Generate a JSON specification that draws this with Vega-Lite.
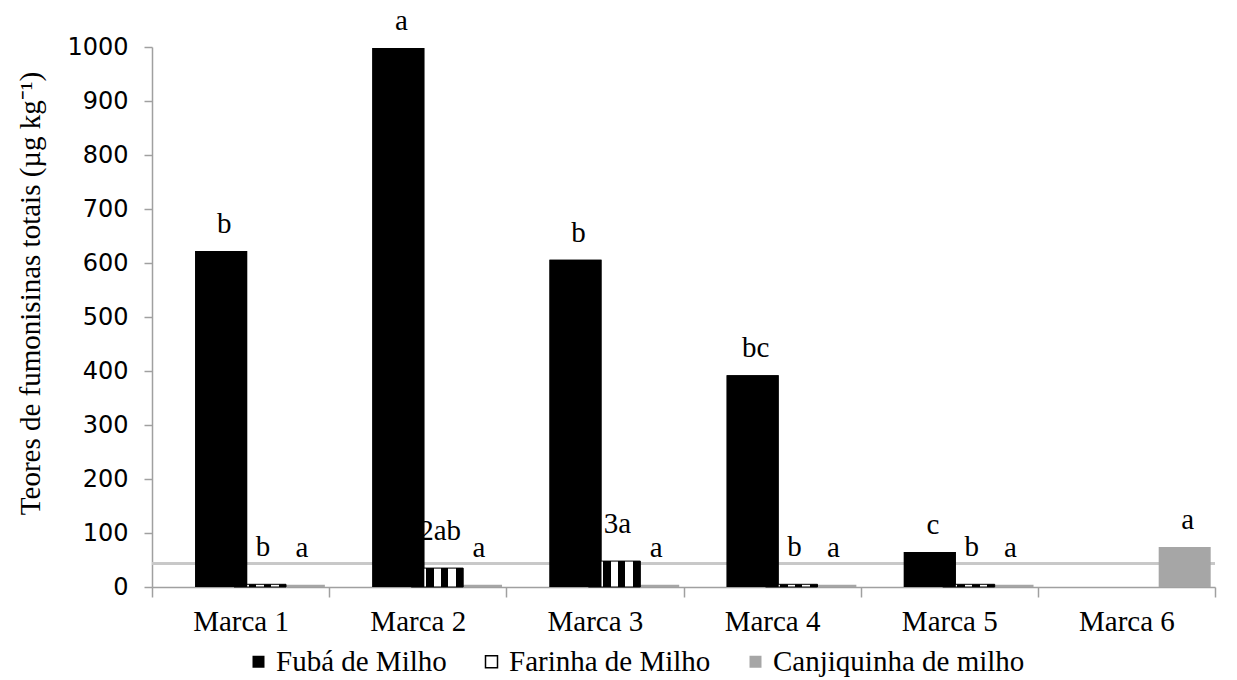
{
  "$schema": "https://vega.github.io/schema/vega-lite/v6.json",
  "width": 1063,
  "height": 540,
  "autosize": {"type": "none"},
  "padding": {"left": 152, "top": 47, "right": 22, "bottom": 93},
  "background": "white",
  "config": {
    "view": {"stroke": null},
    "legend": {"labelFont": "Liberation Serif", "labelFontSize": 29, "labelLimit": 600}
  },
  "data": {
    "values": [
      {"marca": "Marca 1", "serie": "Fubá de Milho", "valor": 622, "letra": "b"},
      {"marca": "Marca 1", "serie": "Farinha de Milho", "valor": 5, "letra": "b"},
      {"marca": "Marca 1", "serie": "Canjiquinha de milho", "valor": 4, "letra": "a"},
      {"marca": "Marca 2", "serie": "Fubá de Milho", "valor": 998, "letra": "a"},
      {"marca": "Marca 2", "serie": "Farinha de Milho", "valor": 35, "letra": "2ab"},
      {"marca": "Marca 2", "serie": "Canjiquinha de milho", "valor": 4, "letra": "a"},
      {"marca": "Marca 3", "serie": "Fubá de Milho", "valor": 606, "letra": "b"},
      {"marca": "Marca 3", "serie": "Farinha de Milho", "valor": 48, "letra": "3a"},
      {"marca": "Marca 3", "serie": "Canjiquinha de milho", "valor": 4, "letra": "a"},
      {"marca": "Marca 4", "serie": "Fubá de Milho", "valor": 392, "letra": "bc"},
      {"marca": "Marca 4", "serie": "Farinha de Milho", "valor": 5, "letra": "b"},
      {"marca": "Marca 4", "serie": "Canjiquinha de milho", "valor": 4, "letra": "a"},
      {"marca": "Marca 5", "serie": "Fubá de Milho", "valor": 65, "letra": "c"},
      {"marca": "Marca 5", "serie": "Farinha de Milho", "valor": 5, "letra": "b"},
      {"marca": "Marca 5", "serie": "Canjiquinha de milho", "valor": 4, "letra": "a"},
      {"marca": "Marca 6", "serie": "Canjiquinha de milho", "valor": 74, "letra": "a"}
    ]
  },
  "encoding": {
    "x": {
      "field": "marca",
      "type": "nominal",
      "sort": ["Marca 1", "Marca 2", "Marca 3", "Marca 4", "Marca 5", "Marca 6"],
      "scale": {"domain": ["Marca 1", "Marca 2", "Marca 3", "Marca 4", "Marca 5", "Marca 6"], "paddingInner": 0, "paddingOuter": 0},
      "axis": {
        "title": null,
        "labelAngle": 0,
        "labelFont": "Liberation Serif",
        "labelFontSize": 29,
        "labelColor": "#000000",
        "labelPadding": 10,
        "domainColor": "#a0a0a0",
        "domainWidth": 1.5,
        "tickColor": "#a0a0a0",
        "tickWidth": 1.5,
        "tickSize": 10,
        "tickBand": "extent"
      }
    },
    "xOffset": {
      "field": "serie",
      "type": "nominal",
      "scale": {"domain": ["", "Fubá de Milho", "Farinha de Milho", "Canjiquinha de milho"], "paddingInner": 0, "paddingOuter": 0.28}
    },
    "y": {
      "field": "valor",
      "type": "quantitative",
      "scale": {"domain": [0, 1000]},
      "axis": {
        "values": [0, 100, 200, 300, 400, 500, 600, 700, 800, 900, 1000],
        "format": "d",
        "grid": false,
        "title": "Teores de fumonisinas totais (µg kg⁻¹)",
        "titleFont": "Liberation Serif",
        "titleFontSize": 29,
        "titleFontWeight": "normal",
        "titleColor": "#000000",
        "titleAngle": -90,
        "titleX": -122,
        "titleY": 246,
        "titleAlign": "center",
        "titleBaseline": "middle",
        "labelFont": "DejaVu Sans",
        "labelFontSize": 24,
        "labelColor": "#000000",
        "labelPadding": 16,
        "domainColor": "#a0a0a0",
        "domainWidth": 1.5,
        "tickColor": "#a0a0a0",
        "tickWidth": 1.5,
        "tickSize": 8
      }
    }
  },
  "layer": [
    {
      "mark": {"type": "rule", "color": "#c8c8c8", "strokeWidth": 2},
      "encoding": {"y": {"datum": 44}, "x": null, "xOffset": null}
    },
    {
      "mark": {"type": "bar", "width": 52},
      "encoding": {
        "color": {
          "field": "serie",
          "type": "nominal",
          "scale": {"domain": ["Fubá de Milho", "Farinha de Milho", "Canjiquinha de milho"], "range": ["#000000", "#ffffff", "#a6a6a6"]},
          "legend": {
            "title": null,
            "orient": "none",
            "legendX": 92,
            "legendY": 600,
            "direction": "horizontal",
            "columns": 3,
            "padding": 0,
            "symbolType": "square",
            "symbolSize": 144,
            "symbolOpacity": 1,
            "labelFont": "Liberation Serif",
            "labelFontSize": 29,
            "labelLimit": 600,
            "labelColor": "#000000",
            "labelOffset": 3,
            "columnPadding": 30,
            "encode": {
              "symbols": {
                "update": {
                  "stroke": {"signal": "datum.value === 'Farinha de Milho' ? '#000000' : 'transparent'"},
                  "strokeWidth": {"value": 1.5}
                }
              }
            }
          }
        }
      }
    },
    {
      "transform": [{"filter": "datum.serie === 'Farinha de Milho'"}],
      "mark": {
        "type": "bar",
        "width": 52,
        "stroke": "#000000",
        "strokeWidth": 1,
        "fill": {
          "gradient": "linear",
          "x1": 0, "y1": 0, "x2": 1, "y2": 0,
          "stops": [
            {"offset": 0, "color": "#000000"},
            {"offset": 0.14, "color": "#000000"},
            {"offset": 0.14, "color": "#ffffff"},
            {"offset": 0.28, "color": "#ffffff"},
            {"offset": 0.28, "color": "#000000"},
            {"offset": 0.43, "color": "#000000"},
            {"offset": 0.43, "color": "#ffffff"},
            {"offset": 0.57, "color": "#ffffff"},
            {"offset": 0.57, "color": "#000000"},
            {"offset": 0.71, "color": "#000000"},
            {"offset": 0.71, "color": "#ffffff"},
            {"offset": 0.86, "color": "#ffffff"},
            {"offset": 0.86, "color": "#000000"},
            {"offset": 1, "color": "#000000"}
          ]
        }
      }
    },
    {
      "transform": [{"filter": "datum.serie === 'Fubá de Milho'"}],
      "mark": {"type": "bar", "width": 52, "color": "#000000"}
    },
    {
      "transform": [{"filter": "datum.valor > 50"}],
      "mark": {
        "type": "text",
        "font": "Liberation Serif",
        "fontSize": 29,
        "color": "#000000",
        "baseline": "alphabetic",
        "align": "center",
        "dy": -18,
        "dx": 3
      },
      "encoding": {"text": {"field": "letra", "type": "nominal"}}
    },
    {
      "transform": [{"filter": "datum.valor <= 50"}],
      "mark": {
        "type": "text",
        "font": "Liberation Serif",
        "fontSize": 29,
        "color": "#000000",
        "baseline": "alphabetic",
        "align": "center",
        "dy": -28,
        "dx": 3
      },
      "encoding": {"text": {"field": "letra", "type": "nominal"}}
    }
  ]
}
